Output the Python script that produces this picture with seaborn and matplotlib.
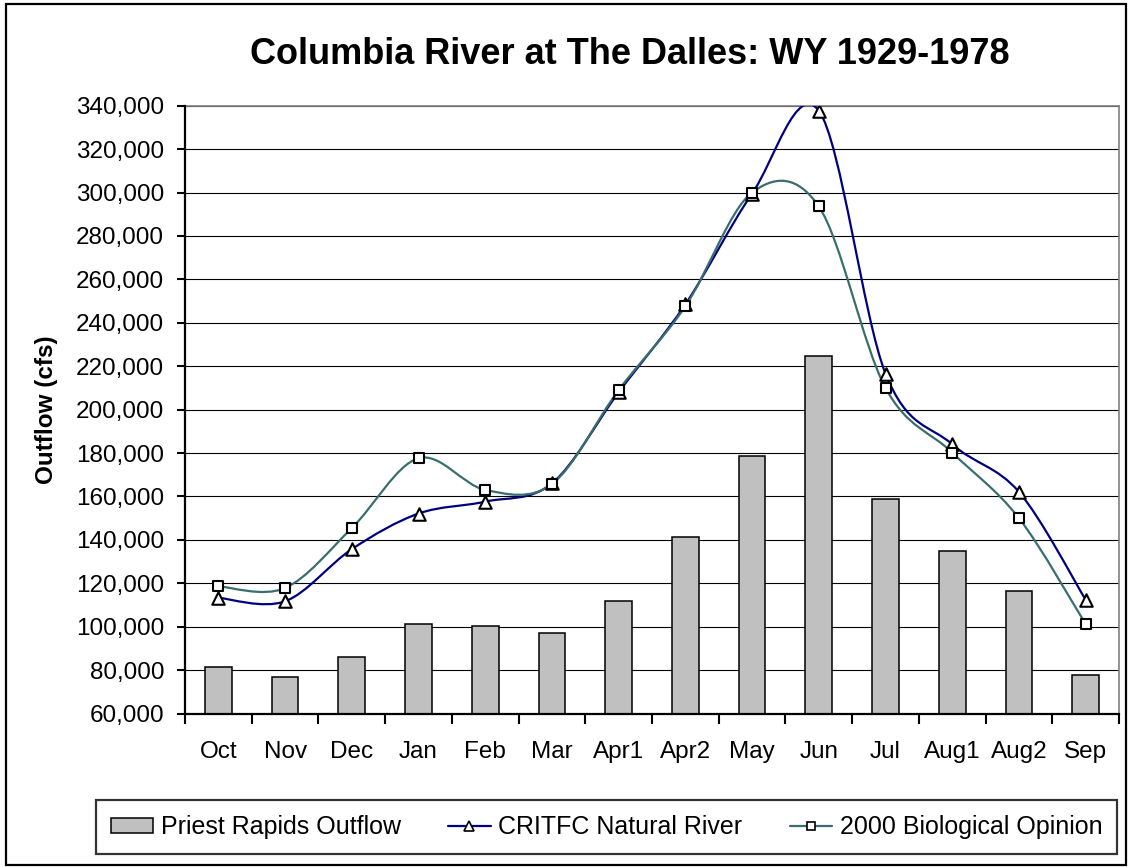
import numpy as np
import matplotlib
matplotlib.use('Agg')
import matplotlib.pyplot as plt
import seaborn as sns
from matplotlib.path import Path
from matplotlib.patches import PathPatch, Patch, Rectangle
from matplotlib.lines import Line2D
from matplotlib.ticker import FuncFormatter, FixedLocator

months = ['Oct', 'Nov', 'Dec', 'Jan', 'Feb', 'Mar', 'Apr1', 'Apr2',
          'May', 'Jun', 'Jul', 'Aug1', 'Aug2', 'Sep']
priest_rapids = [81300, 76700, 85900, 101400, 100500, 97000, 111700,
                 141100, 178600, 224800, 158600, 134700, 116300, 77700]
critfc_natural = [113300, 111700, 135700, 152100, 157600, 166000, 208000,
                  248500, 299500, 337700, 216600, 184000, 162100, 112400]
biop_2000 = [118600, 117800, 145400, 177600, 163000, 165700, 209000,
             247600, 300000, 293600, 210000, 180200, 150000, 101200]

y_ticks = list(range(60000, 340001, 20000))

NAVY = '#000080'
TEAL = '#3A6E6E'
BAR = '#C0C0C0'


def smooth_path(xs, ys):
    # Excel-style smoothed line: cubic bezier segments through the points
    pts = np.column_stack([xs, ys]).astype(float)
    n = len(pts)
    verts = [pts[0]]
    codes = [Path.MOVETO]
    for i in range(n - 1):
        p0 = pts[i - 1] if i > 0 else pts[i]
        p1 = pts[i]
        p2 = pts[i + 1]
        p3 = pts[i + 2] if i + 2 < n else pts[i + 1]
        c1 = p1 + (p2 - p0) / 6.0
        c2 = p2 - (p3 - p1) / 6.0
        verts += [c1, c2, p2]
        codes += [Path.CURVE4] * 3
    return Path(verts, codes)


sns.set_style('white')
plt.rcParams['font.family'] = ['Liberation Sans', 'DejaVu Sans']
plt.rcParams['text.color'] = 'black'
plt.rcParams['axes.labelcolor'] = 'black'
plt.rcParams['xtick.color'] = 'black'
plt.rcParams['ytick.color'] = 'black'

fig = plt.figure(figsize=(11.28, 8.67), dpi=100)
ax = fig.add_axes([185 / 1128, 1 - 713.5 / 867, (1119 - 185) / 1128, (713.5 - 105.7) / 867])

sns.barplot(x=months, y=priest_rapids, color=BAR, saturation=1, width=0.4,
            edgecolor='black', linewidth=1.1, ax=ax, zorder=2)

pos = np.arange(len(months))
for vals, col in [(critfc_natural, NAVY), (biop_2000, TEAL)]:
    ax.add_patch(PathPatch(smooth_path(pos, vals), facecolor='none',
                           edgecolor=col, lw=1.6, zorder=3))

sns.scatterplot(x=pos, y=critfc_natural, marker='^', s=81, color='white',
                edgecolor='black', linewidth=1.5, ax=ax, zorder=4)
sns.scatterplot(x=pos, y=biop_2000, marker='s', s=55, color='white',
                edgecolor='black', linewidth=1.5, ax=ax, zorder=4)

ax.set_xlim(-0.5, len(months) - 0.5)
ax.set_ylim(60000, 340000)
ax.set_yticks(y_ticks)
ax.yaxis.set_major_formatter(FuncFormatter(lambda v, p: f'{int(v):,}'))
ax.set_xticks(pos)
ax.set_xticklabels(months)
ax.xaxis.set_minor_locator(FixedLocator(np.arange(-0.5, len(months), 1.0)))

ax.grid(axis='y', color='black', lw=0.8)
ax.set_axisbelow(True)

ax.tick_params(axis='y', which='major', direction='out', length=6, width=1.5,
               color='black', labelcolor='black', labelsize=17.5, pad=9, left=True)
ax.tick_params(axis='x', which='major', length=0, labelsize=17.5,
               labelcolor='black', pad=20, bottom=True)
ax.tick_params(axis='x', which='minor', direction='out', length=7, width=1.5,
               color='black', bottom=True)

for side in ['left', 'bottom']:
    ax.spines[side].set_color('black')
    ax.spines[side].set_linewidth(1.6)
for side in ['top', 'right']:
    ax.spines[side].set_color('#808080')
    ax.spines[side].set_linewidth(1.2)
ax.spines['left'].set_zorder(5)
ax.spines['bottom'].set_zorder(5)

ax.set_xlabel('')
ax.set_ylabel('Outflow (cfs)', fontsize=17.5, fontweight='bold', labelpad=13,
              color='black')
fig.text(0.558, 1 - 54 / 867, 'Columbia River at The Dalles: WY 1929-1978',
         ha='center', va='center', fontsize=26, fontweight='bold', color='black')

handles = [
    Patch(facecolor=BAR, edgecolor='black', linewidth=1.1),
    Line2D([], [], color=NAVY, lw=1.6, marker='^', markersize=7,
           markerfacecolor='white', markeredgecolor='black', markeredgewidth=1.2),
    Line2D([], [], color=TEAL, lw=1.6, marker='s', markersize=6,
           markerfacecolor='white', markeredgecolor='black', markeredgewidth=1.2),
]
labels = ['Priest Rapids Outflow', 'CRITFC Natural River', '2000 Biological Opinion']
leg = fig.legend(handles, labels, loc='center', bbox_to_anchor=(0.5377, 0.0461),
                 ncol=3, fontsize=18, frameon=True, fancybox=False,
                 edgecolor='black', handlelength=1.7, handleheight=0.55,
                 handletextpad=0.3, columnspacing=1.9, borderpad=0.6,
                 labelcolor='black')
leg.get_frame().set_linewidth(1.6)

fig.patches.append(Rectangle((6 / 1128, 2 / 867), 1120 / 1128, 861 / 867,
                             transform=fig.transFigure, fill=False,
                             edgecolor='black', lw=1.6))

fig.savefig('out.png', dpi=100)
